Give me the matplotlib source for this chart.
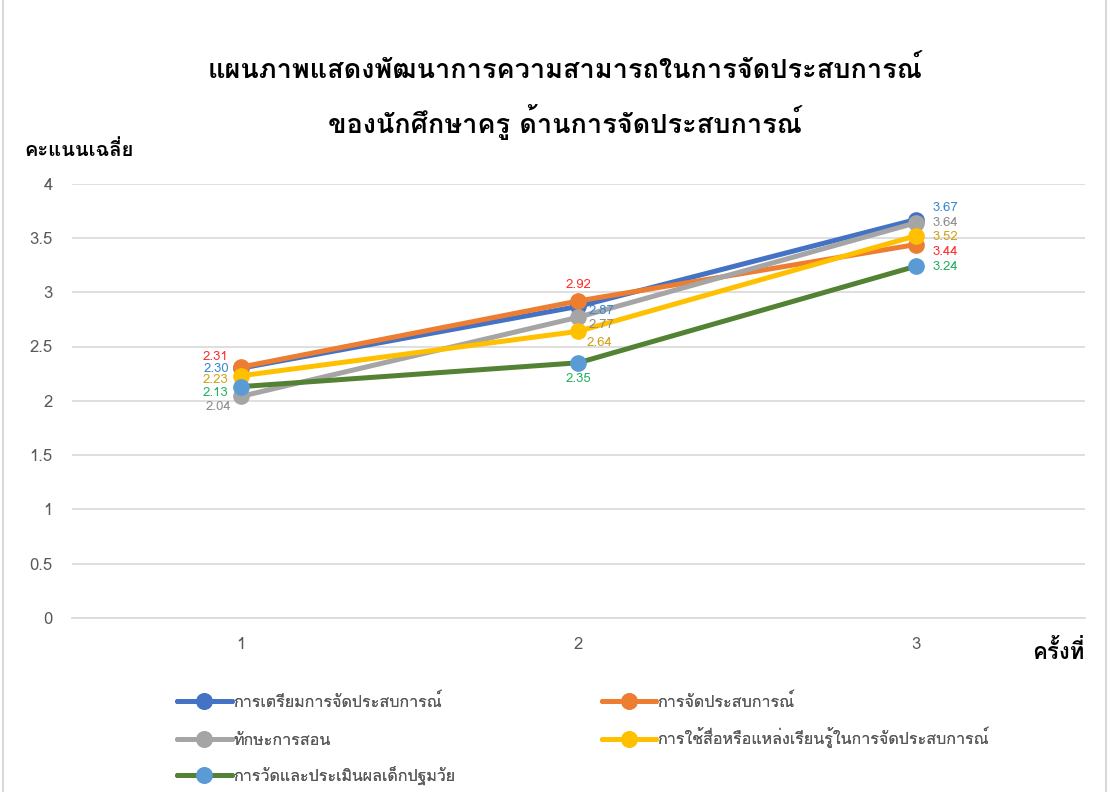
import matplotlib
matplotlib.use("Agg")
import matplotlib.pyplot as plt
from matplotlib import font_manager
from matplotlib.ft2font import FT2Font
from matplotlib.patches import Rectangle

# find a font that can draw Thai
thai_font = None
for fe in font_manager.fontManager.ttflist:
    try:
        cmap = FT2Font(fe.fname).get_charmap()
    except Exception:
        continue
    if 0x0E01 in cmap and 0x0E13 in cmap:
        thai_font = fe.name
        break
families = ([thai_font] if thai_font else []) + ["DejaVu Sans"]
plt.rcParams["font.family"] = families

rounds = [1, 2, 3]
round_labels = ["1", "2", "3"]
names = ["การเตรียมการจัดประสบการณ์", "การจัดประสบการณ์", "ทักษะการสอน",
         "การใช้สื่อหรือแหล่งเรียนรู้ในการจัดประสบการณ์", "การวัดและประเมินผลเด็กปฐมวัย"]
prep = [2.30, 2.87, 3.67]
manage = [2.31, 2.92, 3.44]
teaching = [2.04, 2.77, 3.64]
media = [2.23, 2.64, 3.52]
assess = [2.13, 2.35, 3.24]
series = [prep, manage, teaching, media, assess]

line_colors = ["#4472C4", "#ED7D31", "#A5A5A5", "#FFC000", "#548235"]
marker_colors = ["#4472C4", "#ED7D31", "#A5A5A5", "#FFC000", "#5B9BD5"]
label_colors = ["#3A87D0", "#FF2D2D", "#8C8C8C", "#D0A21A", "#22B060"]
# label offsets in pixels (dx, dy, ha) per series per point
offsets = [
    [(-12, -1, "right"), (10, -5, "left"), (17, 12, "left")],
    [(-12, 10, "right"), (0, 16, "center"), (17, -7, "left")],
    [(-10, -11, "right"), (10, -8, "left"), (17, 0, "left")],
    [(-12, -4, "right"), (8, -12, "left"), (17, -1, "left")],
    [(-12, -6, "right"), (0, -16, "center"), (17, -1, "left")],
]
# legend slots (figure fraction): row-major, two columns
legend_pos = [(0.147, 0.1137), (0.530, 0.1137), (0.147, 0.0644),
              (0.530, 0.0684), (0.147, 0.0215)]

fig = plt.figure(figsize=(11.08, 7.92), dpi=100)
ax = fig.add_axes([0.065, 0.220, 0.914, 0.548])

handles = []
for i, vals in enumerate(series):
    h, = ax.plot(rounds, vals, color=line_colors[i], lw=3.6, marker="o", ms=11,
                 markerfacecolor=marker_colors[i], markeredgecolor=marker_colors[i],
                 label=names[i], zorder=3 + i, solid_capstyle="round")
    handles.append(h)
    for j, v in enumerate(vals):
        dx, dy, ha = offsets[i][j]
        ax.annotate(f"{v:.2f}", (rounds[j], v), xytext=(dx * 0.72, dy * 0.72),
                    textcoords="offset points", ha=ha, va="center",
                    fontsize=9.5, color=label_colors[i], zorder=10)

ax.set_xlim(0.5, 3.5)
ax.set_ylim(0, 4)
ax.set_xticks(rounds)
ax.set_xticklabels(round_labels)
ax.set_yticks([0, 0.5, 1, 1.5, 2, 2.5, 3, 3.5, 4])
ax.set_yticklabels(["0", "0.5", "1", "1.5", "2", "2.5", "3", "3.5", "4"])
ax.tick_params(axis="both", length=0, labelsize=12, colors="#595959", pad=14)
ax.yaxis.grid(True, color="#D9D9D9", lw=1.2)
ax.set_axisbelow(True)
for s in ["top", "right", "left"]:
    ax.spines[s].set_visible(False)
ax.spines["bottom"].set_color("#D9D9D9")
ax.spines["bottom"].set_linewidth(1.2)

fig.text(0.51, 0.913, "แผนภาพแสดงพัฒนาการความสามารถในการจัดประสบการณ์",
         ha="center", va="center", fontsize=19.5, fontweight="bold", color="#000000")
fig.text(0.51, 0.846, "ของนักศึกษาครู ด้านการจัดประสบการณ์",
         ha="center", va="center", fontsize=19.5, fontweight="bold", color="#000000")
fig.text(0.022, 0.810, "คะแนนเฉลี่ย", ha="left", va="center", fontsize=14.5,
         fontweight="bold")
fig.text(0.979, 0.178, "ครั้งที่", ha="right", va="center", fontsize=16,
         fontweight="bold")

# one legend per entry so rows line up like the original
for k, h in enumerate(handles):
    leg = fig.legend([h], [names[k]], loc="center left", bbox_to_anchor=legend_pos[k],
                     frameon=False, fontsize=11.5, labelcolor="#595959",
                     handlelength=3.4, handletextpad=0.1)
    fig.add_artist(leg)

fig.patches.append(Rectangle((0.003, -0.01), 0.995, 1.02, transform=fig.transFigure,
                             fill=False, edgecolor="#D9D9D9", lw=1.5))

fig.savefig("out.png", dpi=100)
